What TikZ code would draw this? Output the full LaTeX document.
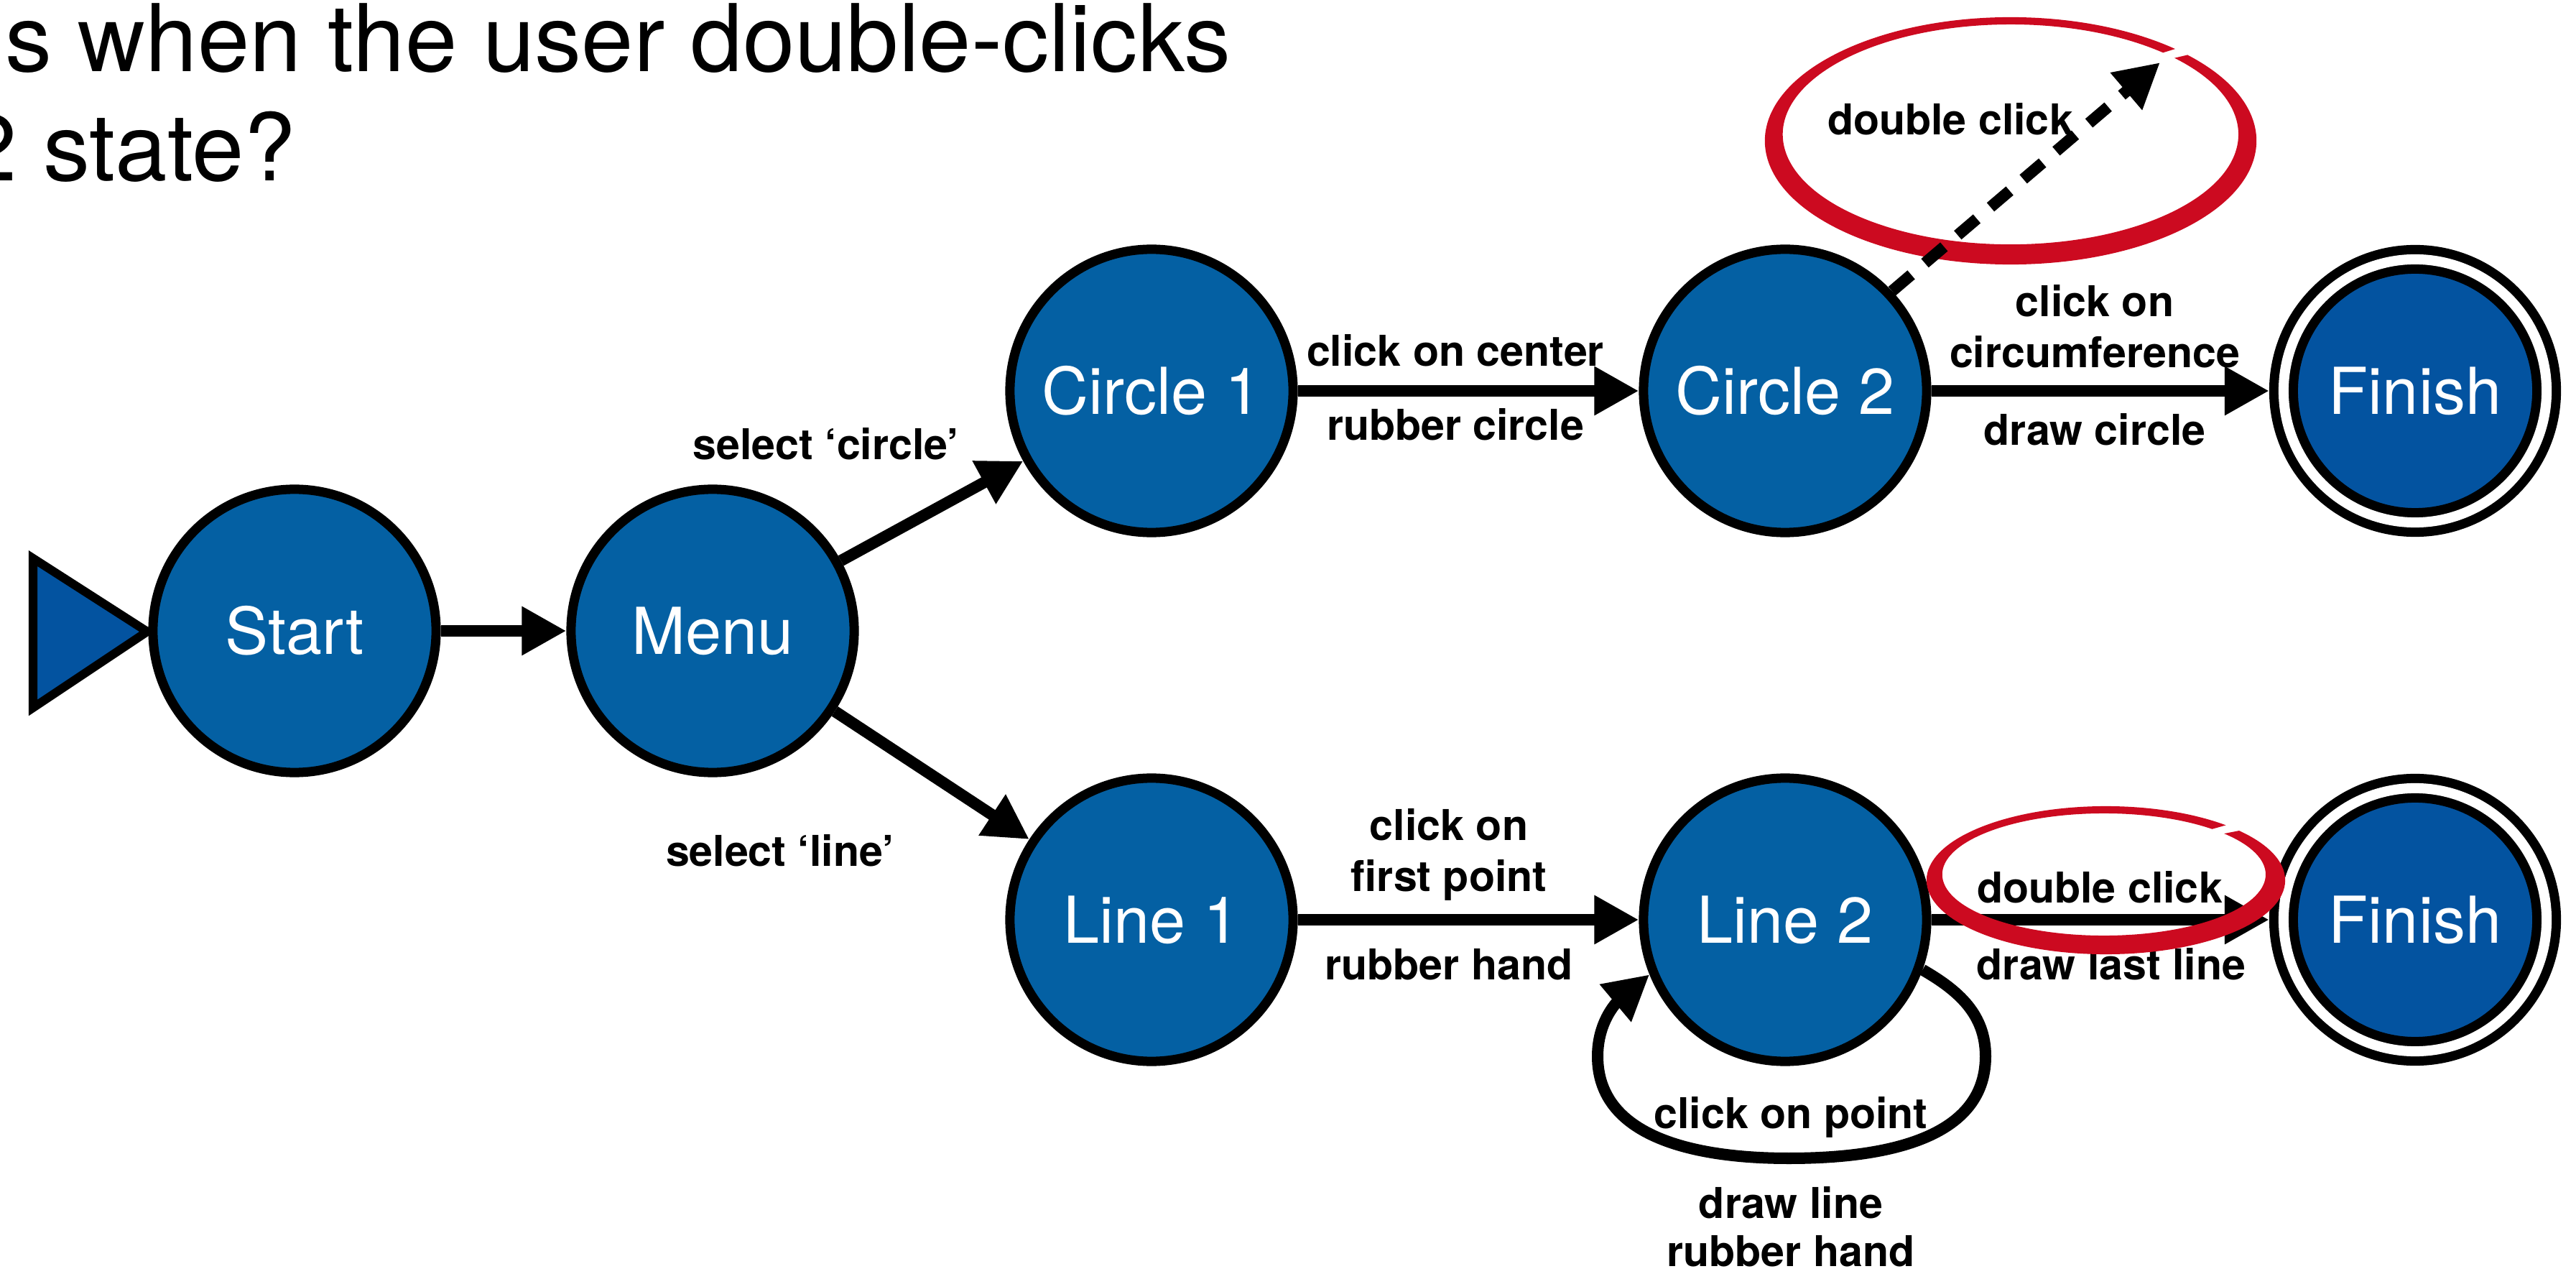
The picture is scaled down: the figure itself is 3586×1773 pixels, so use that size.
\documentclass[tikz,border=0pt]{standalone}
\usepackage{fontspec}
\setmainfont{TeX Gyre Heros}
\usetikzlibrary{arrows.meta}
\definecolor{nodeblue}{HTML}{0460A3}
\definecolor{finblue}{HTML}{0353A0}
\definecolor{markred}{HTML}{CC0A20}
\begin{document}
\begin{tikzpicture}[x=0.01cm, y=0.01cm,
  state/.style={circle, draw=black, line width=0.13cm, fill=nodeblue, minimum size=3.94cm, inner sep=0pt, outer sep=0.065cm, text=white, font=\fontsize{25.6pt}{30pt}\selectfont},
  final/.style={state, fill=finblue, double=white, double distance=0.14cm, minimum size=3.66cm, outer sep=0.2cm},
  arr/.style={line width=0.16cm, -{Triangle[length=0.62cm, width=0.64cm]}},
  lbl/.style={anchor=base, inner sep=0pt, font=\fontsize{16.8pt}{20pt}\selectfont\bfseries},
  titletext/.style={anchor=base west, inner sep=0pt, font=\fontsize{37pt}{44pt}\selectfont}]
\useasboundingbox (0,0) rectangle (3586,-1773);

% title
\node[titletext] (t1) at (7,-100) {s when the user double-clicks};
\node[titletext] (t2) at (-49,-252) {2 state?};

% start marker
\draw[line width=0.12cm, fill=finblue, line join=miter] (46,-777) -- (46,-985) -- (205,-879) -- cycle;

% states
\node[state] (start) at (410,-878) {Start};
\node[state] (menu) at (992,-878) {Menu};
\node[state] (c1) at (1603,-544) {Circle 1};
\node[state] (c2) at (2485,-544) {Circle 2};
\node[final] (f1) at (3362,-544) {Finish};
\node[state] (l1) at (1603,-1280) {Line 1};
\node[state] (l2) at (2485,-1280) {Line 2};
\node[final] (f2) at (3362,-1280) {Finish};

% transitions
\draw[arr] (start) -- (menu);
\draw[arr] (menu) -- (c1);
\draw[arr] (menu) -- (l1);
\draw[arr] (c1) -- (c2);
\draw[arr] (c2) -- (f1);
\draw[arr] (l1) -- (l2);
\draw[arr] (l2) -- (f2);

\coordinate (lr) at (2764,-1470);
\coordinate (lb) at (2490,-1612);
\coordinate (ll) at (2224,-1470);
\draw[arr] (l2.-20) to[out=-30,in=90] (lr) to[out=-90,in=0] (lb) to[out=180,in=-90] (ll) to[out=90,in=-140] (l2.-158);

% labels
\node[lbl] (sc) at (1150,-640) {select ‘circle’};
\node[lbl] (sl) at (1086,-1205) {select ‘line’};
\node[lbl] (cc) at (2026,-510) {click on center};
\node[lbl] (rc) at (2026,-613) {rubber circle};
\node[lbl] (co1) at (2916,-441) {click on};
\node[lbl] (ci) at (2916,-512) {circumference};
\node[lbl] (dc) at (2916,-620) {draw circle};
\node[lbl] (co2) at (2017,-1169) {click on};
\node[lbl] (fp) at (2017,-1240) {first point};
\node[lbl] (rh1) at (2017,-1363) {rubber hand};
\node[lbl] (dbl2) at (2923,-1256) {double click};
\node[lbl] (dll) at (2939,-1363) {draw last line};
\node[lbl] (cop) at (2493,-1570) {click on point};
\node[lbl] (dl) at (2493,-1695) {draw line};
\node[lbl] (rh2) at (2493,-1762) {rubber hand};

% top red mark
\fill[markred] (2799,-196) ++(44:3.42cm and 1.72cm)
  arc[start angle=44, end angle=-312, x radius=3.42cm, y radius=1.72cm]
  -- (3011.1,-73.3)
  arc[start angle=-312, end angle=44, x radius=3.17cm, y radius=1.53cm] -- cycle;
\node[lbl] (dbl1) at (2715,-188) {double click};
\coordinate (dtip) at (3007,-87);
\draw[arr, dash pattern=on 0.35cm off 0.25cm] (c2.43) -- (dtip);

% bottom red mark
\fill[markred] (2931.5,-1225) ++(42:2.495cm and 1.03cm)
  arc[start angle=42, end angle=-312, x radius=2.495cm, y radius=1.03cm]
  -- (3079.5,-1153.8)
  arc[start angle=-312, end angle=42, x radius=2.25cm, y radius=0.85cm] -- cycle;
\end{tikzpicture}
\end{document}
